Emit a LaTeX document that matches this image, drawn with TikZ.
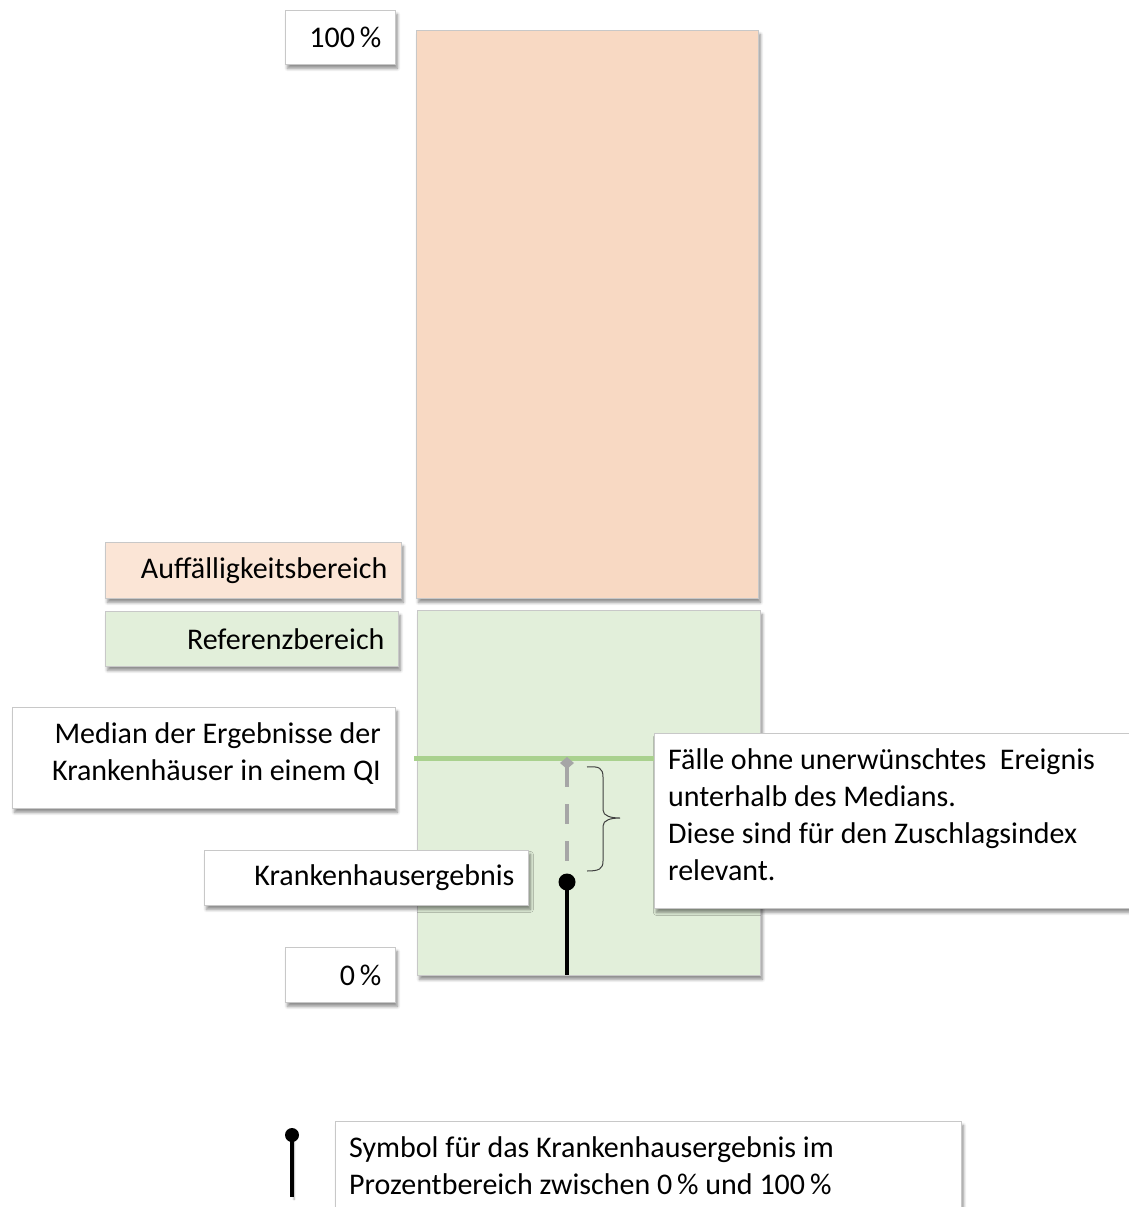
\documentclass[tikz,border=0pt]{standalone}
\usepackage{fontspec}
\setmainfont{Carlito}
\usetikzlibrary{shadows.blur}
\definecolor{orangebar}{HTML}{F8D9C3}
\definecolor{orangelab}{HTML}{FBE5D6}
\definecolor{greenbar}{HTML}{E2EFDA}
\definecolor{medline}{HTML}{A9D18E}
\definecolor{edge}{HTML}{C8C8C8}
\definecolor{dashgray}{HTML}{A6A6A6}
\tikzset{
  sh/.style={blur shadow={shadow blur steps=6, shadow xshift=2pt, shadow yshift=-4pt, shadow blur radius=3pt, shadow opacity=45}},
  lab/.style={draw=edge, line width=0.8pt, fill=white, sh, anchor=north west, inner sep=0pt, font=\fontsize{30}{37}\selectfont},
  rlab/.style={lab, align=flush right},
  txt/.style={anchor=north west, align=flush left, inner sep=0pt, font=\fontsize{30}{37}\selectfont},
  bar/.style={draw=edge, line width=0.8pt, sh, anchor=north west, inner sep=0pt},
}
\begin{document}
\begin{tikzpicture}[x=1pt,y=-1pt]
\useasboundingbox (0,0) rectangle (1128,1207);
% bars
\node[bar, fill=orangebar, minimum width=342pt, minimum height=568pt] (obar) at (416,30) {};
\node[bar, fill=greenbar, minimum width=343pt, minimum height=365pt] (gbar) at (417,610) {};
% labels
\node[rlab, minimum width=110pt, minimum height=54pt, text width=82pt] (p100) at (285,10) {100\,\%};
\node[rlab, fill=orangelab, minimum width=296pt, minimum height=56pt, text width=268pt] (auff) at (105,542) {Auffälligkeitsbereich};
\node[rlab, fill=greenbar, minimum width=293pt, minimum height=55pt, text width=265pt] (ref) at (105,611) {Referenzbereich};
\node[rlab, minimum width=383pt, minimum height=101pt] (med) at (12,707) {};
\node[txt, align=flush right, anchor=north east] (medt) at (381,722) {Median der Ergebnisse der\\Krankenhäuser in einem QI};
\node[rlab, minimum width=110pt, minimum height=55pt, text width=82pt] (p0) at (285,947) {0\,\%};
% callout
\node[lab, minimum width=480pt, minimum height=175pt] (fall) at (654,733) {};
\node[txt] (fallt) at (668,748) {Fälle ohne unerwünschtes~ Ereignis\\unterhalb des Medians.\\Diese sind für den Zuschlagsindex\\relevant.};
% median line
\coordinate (mL) at (414,758);
\draw[medline, line width=5pt] (mL) -- (fall.west |- mL);
% dashed line from median to result
\coordinate (mdot) at (567,763);
\coordinate (kdot) at (567,882);
\coordinate (kbase) at (567,975);
\draw[dashgray, line width=4.5pt, dash pattern=on 20pt off 17pt] (567,767) -- (567,862);
\fill[dashgray] (mdot) ++(0,-6) -- ++(7,6) -- ++(-7,6) -- ++(-7,-6) -- cycle;
% brace
\draw[black!75, line width=1pt] (587,767) .. controls (599,766) and (603,768) .. (603,777) -- (603,810) .. controls (603,816) and (611,818) .. (620,818) .. controls (611,818) and (603,820) .. (603,826) -- (603,861) .. controls (603,869) and (599,871) .. (587,871);
% Krankenhausergebnis
\node[rlab, minimum width=324pt, minimum height=55pt, text width=296pt] (kh) at (204,850) {Krankenhausergebnis};
\draw[line width=4pt] (kdot) -- (kbase);
\fill (kdot) circle (8.5pt);
% legend
\node[lab, minimum width=626pt, minimum height=100pt] (leg) at (335,1121) {};
\node[txt] (legt) at (349,1136) {Symbol für das Krankenhausergebnis im\\Prozentbereich zwischen 0\,\% und 100\,\%};
\coordinate (sdot) at (292,1135);
\coordinate (sbase) at (292,1197);
\draw[line width=4pt, blur shadow={shadow xshift=2pt, shadow yshift=-3pt, shadow opacity=40}] (sdot) -- (sbase);
\fill (sdot) circle (7pt);
\end{tikzpicture}
\end{document}
